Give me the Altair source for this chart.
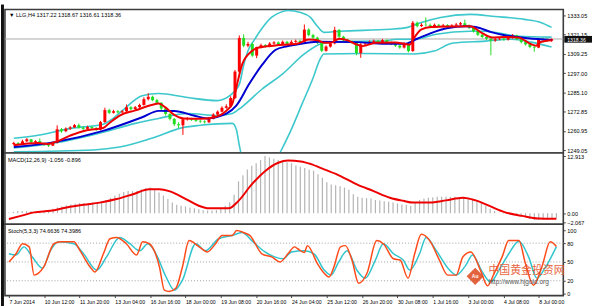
import altair as alt
import pandas as pd

# ---------------- price bars (H4) ----------------
opens = [1252.8,1253.5,1253.0,1254.5,1255.8,1254.0,1254.6,1253.0,1252.4,1251.8,
         1253.5,1262.0,1260.8,1262.4,1263.2,1264.6,1263.0,1262.3,1263.4,1262.8,
         1261.8,1266.5,1274.0,1272.3,1273.3,1272.6,1273.2,1275.8,1274.6,1275.8,
         1277.2,1280.8,1282.3,1280.2,1278.5,1275.0,1271.6,1268.5,1265.2,1264.5,
         1268.3,1268.6,1268.0,1267.3,1266.9,1266.4,1268.6,1271.2,1273.0,1275.4,
         1276.3,1281.5,1298.0,1319.0,1314.2,1315.3,1308.0,1313.3,1314.5,1313.8,
         1315.5,1316.2,1315.0,1316.6,1315.4,1316.6,1317.2,1316.4,1324.2,1320.8,
         1319.2,1316.0,1311.0,1313.6,1315.6,1324.0,1319.8,1317.6,1316.6,1316.0,
         1309.6,1315.0,1315.6,1316.6,1317.2,1316.4,1317.6,1316.0,1315.4,1314.2,
         1313.0,1315.6,1310.8,1328.5,1326.4,1327.2,1327.0,1326.4,1327.2,1326.6,
         1327.0,1326.2,1326.8,1327.4,1328.2,1326.6,1325.4,1323.2,1321.0,1319.6,
         1318.6,1317.4,1318.2,1318.6,1318.0,1319.2,1320.6,1318.2,1316.4,1315.0,
         1313.4,1313.0,1318.4,1318.0,1317.22]
closes = [1253.5,1253.0,1254.5,1255.8,1254.0,1254.6,1253.0,1252.4,1251.8,1253.5,
          1262.0,1260.8,1262.4,1263.2,1264.6,1263.0,1262.3,1263.4,1262.8,1261.8,
          1266.5,1274.0,1272.3,1273.3,1272.6,1273.2,1275.8,1274.6,1275.8,1277.2,
          1280.8,1282.3,1280.2,1278.5,1275.0,1271.6,1268.5,1265.2,1264.5,1268.3,
          1268.6,1268.0,1267.3,1266.9,1266.4,1268.6,1271.2,1273.0,1275.4,1276.3,
          1281.5,1298.0,1319.0,1314.2,1315.3,1308.0,1313.3,1314.5,1313.8,1315.5,
          1316.2,1315.0,1316.6,1315.4,1316.6,1317.2,1316.4,1324.2,1320.8,1319.2,
          1316.0,1311.0,1313.6,1315.6,1324.0,1319.8,1317.6,1316.6,1316.0,1309.6,
          1315.0,1315.6,1316.6,1317.2,1316.4,1317.6,1316.0,1315.4,1314.2,1313.0,
          1315.6,1310.8,1328.5,1326.4,1327.2,1327.0,1326.4,1327.2,1326.6,1327.0,
          1326.2,1326.8,1327.4,1328.2,1326.6,1325.4,1323.2,1321.0,1319.6,1318.6,
          1317.4,1318.2,1318.6,1318.0,1319.2,1320.6,1318.2,1316.4,1315.0,1313.4,
          1313.0,1318.4,1318.0,1317.22,1318.36]
highs = [1254.2,1254.0,1255.5,1256.5,1256.0,1255.2,1256.3,1253.6,1253.0,1254.2,
         1264.5,1262.8,1263.2,1264.0,1265.3,1265.6,1263.8,1264.2,1264.0,1263.4,
         1267.2,1275.5,1274.8,1274.2,1274.0,1274.0,1277.5,1276.4,1276.5,1278.0,
         1282.0,1284.5,1283.0,1281.0,1279.0,1275.6,1272.0,1269.0,1266.4,1269.0,
         1269.6,1269.2,1268.6,1268.0,1267.6,1269.4,1272.0,1273.8,1276.4,1277.6,
         1282.6,1299.0,1320.6,1321.3,1316.6,1316.0,1313.6,1315.5,1315.2,1316.4,
         1317.0,1316.8,1317.4,1317.2,1317.6,1318.0,1318.0,1327.4,1325.0,1321.6,
         1319.8,1316.6,1314.4,1316.4,1326.0,1324.6,1320.4,1318.4,1317.4,1316.4,
         1315.8,1316.4,1317.4,1318.0,1317.8,1318.4,1318.2,1316.8,1316.0,1314.8,
         1316.2,1316.6,1329.6,1329.2,1328.2,1331.8,1328.0,1328.0,1327.8,1327.8,
         1327.6,1327.6,1328.4,1329.0,1330.4,1327.4,1326.0,1323.8,1321.6,1320.2,
         1319.2,1319.0,1319.4,1319.4,1320.0,1321.4,1321.0,1318.8,1317.0,1315.6,
         1314.4,1319.0,1319.2,1318.8,1318.67]
lows = [1252.0,1252.3,1252.6,1254.0,1253.4,1253.2,1252.5,1251.8,1251.0,1251.5,
        1253.2,1259.8,1260.2,1261.6,1262.8,1262.4,1261.5,1261.8,1262.0,1261.0,
        1261.3,1266.0,1271.5,1271.8,1271.8,1272.0,1272.8,1273.8,1274.0,1275.2,
        1276.8,1280.0,1279.5,1277.6,1274.0,1270.6,1267.5,1264.0,1262.6,1258.5,
        1267.4,1267.2,1266.6,1266.0,1265.6,1266.0,1268.2,1270.6,1272.6,1274.8,
        1275.8,1281.0,1297.2,1313.2,1313.2,1307.2,1306.4,1312.6,1313.0,1313.2,
        1314.8,1314.2,1314.6,1314.8,1315.0,1316.0,1315.6,1316.0,1320.0,1318.4,
        1315.2,1310.2,1310.4,1313.0,1315.0,1319.0,1316.8,1315.8,1315.2,1308.2,
        1306.6,1314.2,1315.0,1316.0,1315.6,1315.8,1315.2,1314.6,1313.4,1312.2,
        1312.4,1310.0,1310.4,1325.6,1325.8,1326.2,1325.6,1325.8,1325.8,1326.0,
        1325.4,1325.8,1326.0,1326.8,1325.8,1324.6,1322.4,1320.2,1318.8,1317.8,
        1308.2,1316.6,1317.6,1317.2,1317.4,1318.6,1317.6,1315.6,1314.2,1312.6,
        1310.4,1312.6,1317.2,1316.6,1316.61]
last_price = 1318.36

# ---------------- overlay lines (bar index, price) ----------------
ma_fast_i = [0,5.6,7.8,10,13.2,16.8,20.6,22.2,24.4,28,31.8,33.4,34.8,37,39.2,43,46,49.1,50.4,51.3,
             52.7,54.9,56.5,60.3,65.5,68,70,71.5,73,75.1,77,78.9,80.5,83.4,87.9,91.3,92.4,94,96.2,
             101.3,105.2,108.1,110.3,113.2,116.4,119.3,120.4,121.5,124]
ma_fast_v = [1252.1,1253.4,1252.8,1254.5,1258.3,1261.4,1262.8,1266.3,1270.6,1273.8,1277.2,1278.1,1276.0,
             1271.0,1268.8,1268.6,1269.4,1273.8,1278.1,1288.0,1302.8,1310.8,1313.0,1314.3,1315.6,1318.0,
             1317.6,1316.0,1316.0,1318.5,1317.5,1315.1,1313.9,1316.0,1316.2,1314.8,1319.5,1324.4,1325.8,
             1326.2,1326.3,1321.8,1319.3,1319.6,1319.2,1315.1,1314.2,1316.5,1317.6]
ma_slow_i = [0,9.4,20.6,29.6,33.4,37,41.5,44.6,49.1,51.3,54.3,57.2,60.3,63,65.5,70,78.9,85.6,90.1,93,
             96.2,99.8,104.3,106.5,110.3,113.2,118.6,124]
ma_slow_v = [1250.9,1254.0,1261.0,1269.5,1273.5,1273.4,1270.6,1268.8,1271.9,1276.8,1290.4,1302.0,1311.5,
             1313.8,1315.0,1316.6,1316.4,1315.4,1315.4,1318.5,1322.0,1325.0,1326.3,1325.8,1322.5,1320.7,
             1318.8,1317.8]
bb_up_i = [0,5.6,13.2,20.6,22.9,25.1,29.6,33.4,40.1,46.9,49.8,52,53,54,55.5,57.5,59.4,61.3,63.2,66.1,
           68.4,70,71.5,75.1,86.8,90.8,94,98.4,105.2,111,117.7,121.5,124]
bb_up_v = [1256.4,1258.3,1262.6,1265.1,1268.8,1273.8,1283.0,1284.3,1281.8,1279.9,1283.0,1290.0,1302.0,
           1311.0,1318.0,1326.0,1331.8,1334.8,1336.1,1334.9,1331.8,1326.3,1322.5,1323.2,1324.4,1325.6,
           1328.7,1331.8,1333.7,1332.4,1330.6,1328.7,1325.6]
bb_mid_i = [0,9.4,20.6,28,33.4,40.1,46.9,50.4,52.7,57.2,62,67,71,75,85,88.3,92.4,97.4,105.2,108.7,116.4,124]
bb_mid_v = [1250.3,1253.4,1260.2,1265.7,1268.8,1271.9,1270.6,1271.9,1276.2,1287.0,1296.6,1309.0,1315.6,
            1316.8,1317.0,1318.2,1318.2,1321.3,1323.2,1323.2,1320.1,1319.5]
bb_low_i = [0,18.4,24.4,31.8,39.2,43,50.4,51.3,52,53,56,59,61.5,64,66.5,69,70.5,71.5,80,92.4,96.9,
            101.3,108.7,114.8,119.3,124]
bb_low_v = [1248.0,1249.1,1250.9,1256.4,1263.2,1264.5,1265.7,1262.0,1252.0,1240.0,1228.0,1235.0,1248.0,
            1262.0,1278.0,1294.0,1305.0,1309.0,1309.3,1309.0,1310.8,1315.8,1317.0,1318.2,1316.4,1313.3]

# ---------------- MACD(12,26,9) ----------------
macd_hist = [0.1,0.3,0.5,0.5,0.5,0.5,0.4,0.4,0.3,0.5,
             1.0,1.3,1.6,1.8,2.0,2.2,2.3,2.3,2.3,2.4,
             2.5,2.7,3.0,3.5,4.0,4.4,4.8,5.0,5.0,5.1,
             5.4,5.7,5.8,5.3,4.7,4.0,3.2,2.4,1.9,1.7,
             1.5,1.3,1.1,0.9,0.7,0.6,0.6,0.7,1.0,1.7,
             2.5,4.2,7.2,8.6,9.9,10.7,11.3,12.0,12.9,12.6,
             12.3,12.0,11.7,11.5,11.3,10.8,10.5,10.2,9.9,9.6,
             8.8,8.0,7.0,6.5,6.3,6.1,5.8,5.3,4.3,3.7,
             3.5,3.4,3.3,3.0,2.9,2.7,2.6,2.4,2.2,2.0,
             1.9,1.7,2.4,3.0,3.3,3.5,3.6,3.7,3.7,3.7,
             3.7,3.7,3.6,3.5,3.5,3.3,2.9,2.4,1.7,1.0,
             0.5,0.1,-0.1,-0.2,-0.2,-0.3,-0.6,-0.9,-1.3,-1.5,
             -1.5,-1.5,-1.4,-1.2,-1.056]
macd_sig_i = [0,2.7,5.7,9.4,13.1,16.9,20.6,24.4,28.1,31.8,34.1,36.3,40.1,43,45.3,49.8,52,55,58,61,63.2,
              66.1,68.4,71.4,75.1,78.8,82.6,86.3,89.3,91.6,95.3,99,102.8,105.7,108.7,112.4,116.2,119.9,124]
macd_sig_v = [-1.3,-0.6,0.2,0.55,1.3,1.9,2.4,3.2,4.3,5.4,5.4,5.0,3.2,1.7,1.1,1.1,2.8,6.5,9.5,11.4,11.9,
              11.7,11.1,9.9,8.4,6.5,5.0,3.5,2.8,2.4,2.4,2.9,3.5,2.9,1.7,0.2,-0.6,-1.2,-1.25]

# ---------------- Stochastic(5,3,3) ----------------
stk_i = [0,1.6,3.1,4.6,5.7,7.9,10.2,11.7,14.7,16.1,18.4,19.5,21.4,22.9,24.4,26.6,28.9,30.3,31.8,34.1,
         35.2,36.3,37.8,39.3,40.8,43.1,44.9,46.8,48.3,50.5,51.6,53.1,54.6,57.3,59.5,61.4,63.2,64.7,65.4,
         66.9,67.6,69.9,71.4,72.5,73.6,75.1,76.2,77.7,79.2,81.1,83.3,84.8,87.1,88.6,90.4,91.9,93.4,95.3,
         97.5,99.4,101.3,102.8,104.6,106.9,108.4,109.9,111.7,113.2,115.5,117.0,118.8,120.7,122.6,124]
stk_v = [50,63,79,74,29,42,79,82,82,68,42,34,63,87,89,79,61,82,79,42,
         5,3,8,42,84,74,66,79,92,92,100,97,92,63,58,50,63,74,71,65,
         76,47,32,26,42,74,76,53,16,32,84,79,55,53,24,63,94,84,53,29,
         29,58,66,35,12,32,58,84,84,47,13,42,82,74.66]
std_i = [0,1.6,3.4,5.3,7.6,9.4,11.3,14.7,16.9,19.9,22.1,25.1,27.4,29.6,31.5,33.3,35.6,37.5,39.3,42.3,
         44.5,47.5,50.5,52.8,55.0,58.0,60.2,62.1,64.0,66.9,69.1,71.4,72.9,74.7,76.6,78.8,80.7,83.0,84.8,
         87.1,89.3,90.8,93.0,94.5,96.8,99.8,101.3,103.5,105.0,107.2,109.1,111.0,113.2,115.5,117.7,119.6,
         121.4,124]
std_v = [63,61,74,58,40,68,82,79,63,37,58,89,79,68,79,63,26,5,21,79,
         68,87,92,97,84,66,58,55,66,68,63,37,29,50,68,37,24,53,79,63,
         53,37,63,89,68,37,29,45,61,34,18,37,63,83,58,24,40,74.40]
stoch_levels = [20, 50, 80]

# ---------------- axis labels ----------------
price_ticks = [1333.05, 1321.15, 1309.25, 1297.00, 1285.10, 1272.85, 1260.95, 1249.05]
macd_ticks = [12.913, 0.0, -2.067]
stoch_ticks = [100, 80, 50, 20, 0]
time_tick_bars = [0, 8, 16, 24, 32, 40, 48, 56, 64, 72, 80, 88, 96, 104, 112, 120]
time_labels = ["7 Jun 2014", "10 Jun 12:00", "11 Jun 20:00", "13 Jun 04:00", "16 Jun 16:00",
               "18 Jun 00:00", "19 Jun 08:00", "20 Jun 16:00", "24 Jun 04:00", "25 Jun 12:00",
               "26 Jun 20:00", "30 Jun 08:00", "1 Jul 16:00", "3 Jul 00:00", "4 Jul 08:00", "8 Jul 00:00"]

# ---------------- build tables ----------------
bars = pd.DataFrame({"i": list(range(len(closes))), "o": opens, "h": highs, "l": lows, "c": closes})
ups = bars[bars["c"] >= bars["o"]]
downs = bars[bars["c"] < bars["o"]]

def series(xs, vs):
    return pd.DataFrame({"i": xs, "v": vs})

hist = pd.DataFrame({"i": list(range(len(macd_hist))), "v": macd_hist})
levels = pd.DataFrame({"lv": stoch_levels})

# ---------------- layout ----------------
W = 564
H1, H2, H3 = 145, 72, 72
FONT = "Liberation Sans"
xsc = alt.Scale(domain=[-0.897, 125.56], nice=False, zero=False)
xn = alt.X("i:Q", scale=xsc, axis=None, title=None)

def raxis(values, fmt=None, expr=None):
    kw = dict(orient="right", values=values, labelFontSize=5.6, labelFont=FONT, labelColor="#000",
              tickSize=2, tickColor="#444", labelPadding=1.5, domain=False, grid=False,
              labelOverlap=False, labelBound=False, labelFlush=False)
    if fmt:
        kw["format"] = fmt
    if expr:
        kw["labelExpr"] = expr
    return alt.Axis(**kw)

price_sc = alt.Scale(domain=[1247.19, 1336.76], nice=False, zero=False)
price_ax = raxis(price_ticks, fmt=".2f")
def py(f):
    return alt.Y(f, scale=price_sc, axis=price_ax, title=None)

def left_border(h, top=-2):
    return alt.Chart(pd.DataFrame({"a": [0]})).mark_rule(color="#111", strokeWidth=3).encode(
        x=alt.value(-2.5), y=alt.value(top), y2=alt.value(h))

def pline(xs, vs, color, width):
    return alt.Chart(series(xs, vs)).mark_line(color=color, strokeWidth=width, interpolate="monotone",
                                               clip=True).encode(x=xn, y=py("v:Q"))

# main panel
lastdf = pd.DataFrame({"p": [last_price], "top": [last_price + 1.9], "bot": [last_price - 2.3],
                       "t": [f"{last_price:.2f}"]})
cur_line = alt.Chart(lastdf).mark_rule(color="#a8a8a8", strokeWidth=1).encode(y=py("p:Q"))
layers = [cur_line]
for xs, vs in [(bb_up_i, bb_up_v), (bb_mid_i, bb_mid_v), (bb_low_i, bb_low_v)]:
    layers.append(pline(xs, vs, "#3cc8cc", 1.6))
for df, col in [(ups, "#ff0000"), (downs, "#22dd22")]:
    layers.append(alt.Chart(df).mark_rule(strokeWidth=1, color=col).encode(x=xn, y=py("l:Q"), y2="h:Q"))
    layers.append(alt.Chart(df).mark_bar(size=3, color=col).encode(x=xn, y=py("o:Q"), y2="c:Q"))
layers.append(pline(ma_slow_i, ma_slow_v, "#0000d0", 2))
layers.append(pline(ma_fast_i, ma_fast_v, "#ee0000", 2))
pbox = alt.Chart(lastdf).mark_rect(color="#111").encode(
    x=alt.value(W + 1), x2=alt.value(W + 29), y=py("top:Q"), y2="bot:Q")
ptext = alt.Chart(lastdf).mark_text(align="left", baseline="middle", color="white", fontSize=5.2,
                                    font=FONT, dy=0.6).encode(x=alt.value(W + 4), y=py("p:Q"), text="t:N")
main_title = alt.Chart(pd.DataFrame({"t": ["\u25bc LLG,H4  1317.22 1318.67 1316.61 1318.36"]})).mark_text(
    align="left", baseline="middle", fontSize=5.6, font=FONT, color="#000").encode(
    x=alt.value(4), y=alt.value(6), text="t:N")
layers += [pbox, ptext, main_title, left_border(H1 + 1, top=-5)]
main = alt.layer(*layers).properties(width=W, height=H1)

# MACD panel
macd_sc = alt.Scale(domain=[-2.503, 13.593], nice=False, zero=False)
macd_ax = raxis(macd_ticks, expr="datum.value == 0 ? '0.00' : format(datum.value, '.3f')")
hbars = alt.Chart(hist).mark_rule(color="#b4b4b4", strokeWidth=1.2).encode(
    x=xn, y=alt.Y("v:Q", scale=macd_sc, axis=macd_ax, title=None), y2=alt.datum(0))
sline = alt.Chart(series(macd_sig_i, macd_sig_v)).mark_line(color="#ee0000", strokeWidth=2,
                                                             interpolate="monotone").encode(
    x=xn, y=alt.Y("v:Q", scale=macd_sc, axis=macd_ax, title=None))
macd_title = alt.Chart(pd.DataFrame({"t": ["MACD(12,26,9) -1.056 -0.896"]})).mark_text(
    align="left", baseline="middle", fontSize=5.6, font=FONT, color="#000").encode(
    x=alt.value(3), y=alt.value(7), text="t:N")
macd = alt.layer(hbars, sline, macd_title, left_border(H2 + 1)).properties(width=W, height=H2)

# Stochastic panel
st_sc = alt.Scale(domain=[-3.63, 109.94], nice=False, zero=False)
st_ax = raxis(stoch_ticks)
lab_expr = "[" + ",".join("'" + t + "'" for t in time_labels) + "][round(datum.value / 8)]"
xax = alt.Axis(values=time_tick_bars, labelExpr=lab_expr, labelAlign="left", labelFontSize=5.2,
               labelFont=FONT, labelColor="#000", tickSize=2, tickColor="#444", labelPadding=1.5,
               domain=False, grid=False, labelOverlap=False, labelBound=False, labelFlush=False)
xs_ = alt.X("i:Q", scale=xsc, axis=xax, title=None)
def sy(f):
    return alt.Y(f, scale=st_sc, axis=st_ax, title=None)

lvl = alt.Chart(levels).mark_rule(color="#a0a0a0", strokeDash=[1, 2], strokeWidth=1).encode(y=sy("lv:Q"))
st_d = alt.Chart(series(std_i, std_v)).mark_line(color="#30c4cc", strokeWidth=1.5,
                                                 interpolate="monotone").encode(x=xs_, y=sy("v:Q"))
st_k = alt.Chart(series(stk_i, stk_v)).mark_line(color="#ff4a1a", strokeWidth=1.5,
                                                 interpolate="monotone").encode(x=xs_, y=sy("v:Q"))
st_title = alt.Chart(pd.DataFrame({"t": ["Stoch(5,3,3) 74.6636 74.3986"]})).mark_text(
    align="left", baseline="middle", fontSize=5.6, font=FONT, color="#000").encode(
    x=alt.value(3), y=alt.value(7), text="t:N")

wm_logo = pd.DataFrame({"i": [105.6], "v": [27.0], "t": ["Au"]})
wm_cn = pd.DataFrame({"i": [108.6], "v": [35.5], "t": ["中国黄金投资网"]})
wm_url = pd.DataFrame({"i": [108.6], "v": [17.5], "t": ["http://www.hjgold.org"]})
logo = alt.Chart(wm_logo).mark_point(shape="diamond", filled=True, size=300, color="#e0522a", opacity=0.9).encode(
    x=xs_, y=sy("v:Q"))
logo_t = alt.Chart(wm_logo).mark_text(fontSize=5, color="white", font=FONT, fontWeight="bold").encode(
    x=xs_, y=sy("v:Q"), text="t:N")
cn = alt.Chart(wm_cn).mark_text(align="left", baseline="middle", fontSize=11, color="#e4532a", opacity=0.9,
                                font="Noto Sans CJK SC").encode(x=xs_, y=sy("v:Q"), text="t:N")
url = alt.Chart(wm_url).mark_text(align="left", baseline="middle", fontSize=6.6, color="#555",
                                  font=FONT).encode(x=xs_, y=sy("v:Q"), text="t:N")
stochp = alt.layer(lvl, st_d, st_k, st_title, logo, logo_t, cn, url, left_border(H3 + 14)).properties(
    width=W, height=H3)

chart = alt.vconcat(main, macd, stochp, spacing=0, bounds="flush").properties(
    padding={"left": 0, "top": 0, "right": 0, "bottom": 0}, background="white"
).configure_view(stroke="#3c3c3c", strokeWidth=1.6, fill="white")

chart.save("out.html", embed_options={"renderer": "svg", "actions": False})
